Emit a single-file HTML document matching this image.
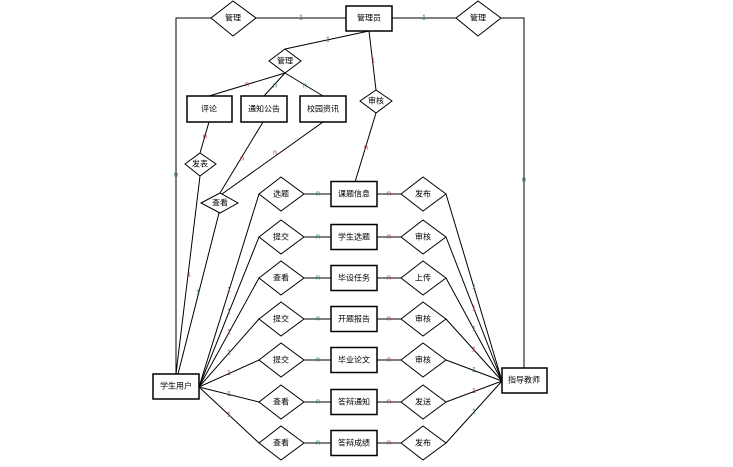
<!DOCTYPE html>
<html><head><meta charset="utf-8"><style>
html,body{margin:0;padding:0;background:#fff;}
svg{display:block;}
text{font-family:"Liberation Sans","Noto Sans CJK SC",sans-serif;font-size:8px;fill:#000;text-anchor:middle;dominant-baseline:central;}
.l{font-size:7px;}
.r{fill:#b03030;}
.t{fill:#207070;}
line,polyline,polygon,rect{stroke:#000;stroke-width:1;fill:#fff;}
polyline{fill:none;}
rect{stroke-width:1.5;}
</style></head><body>
<svg width="733" height="467" viewBox="0 0 733 467">
<!-- top lines -->
<polyline points="211,18 176,18 176,374"/>
<line x1="256" y1="18" x2="346" y2="18"/>
<line x1="392" y1="18" x2="456" y2="18"/>
<polyline points="501,18 524,18 524,368"/>
<line x1="369" y1="31" x2="285" y2="49"/>
<line x1="369" y1="31" x2="376" y2="90"/>
<line x1="376" y1="113" x2="355" y2="182"/>
<line x1="285" y1="73" x2="209" y2="96"/>
<line x1="285" y1="73" x2="264" y2="96"/>
<line x1="285" y1="73" x2="323" y2="96"/>
<line x1="209" y1="122" x2="200" y2="153"/>
<line x1="200" y1="176" x2="176" y2="374"/>
<line x1="263" y1="122" x2="220" y2="193"/>
<line x1="323" y1="122" x2="222" y2="194"/>
<line x1="219" y1="213" x2="178" y2="374"/>
<!-- rows -->
<g id="rows"></g>
<!-- shapes -->
<polygon points="211,18 233,1 256,18 233,36"/>
<polygon points="456,18 478,1 501,18 478,36"/>
<rect x="346" y="6" width="46" height="25"/>
<polygon points="269,61 285,49 301,61 285,73"/>
<polygon points="360,101 376,90 392,101 376,113"/>
<rect x="187" y="96" width="45" height="26"/>
<rect x="241" y="96" width="46" height="26"/>
<rect x="300" y="96" width="46" height="26"/>
<polygon points="185,164 200,153 216,164 200,176"/>
<polygon points="201,203 220,193 238,203 220,213"/>
<rect x="153" y="374" width="46" height="25"/>
<rect x="502" y="368" width="45" height="25"/>
<text x="233" y="18">管理</text>
<text x="478" y="18">管理</text>
<text x="369" y="18">管理员</text>
<text x="285" y="61">管理</text>
<text x="376" y="101">审核</text>
<text x="209" y="109">评论</text>
<text x="264" y="109">通知公告</text>
<text x="323" y="109">校园资讯</text>
<text x="200" y="164">发表</text>
<text x="220" y="203">查看</text>
<text x="176" y="386">学生用户</text>
<text x="524" y="380">指导教师</text>
<text class="l t" x="301" y="18">1</text>
<text class="l t" x="424" y="18">1</text>
<text class="l t" x="328" y="40">1</text>
<text class="l r" x="373" y="61">1</text>
<text class="l r" x="366" y="148">n</text>
<text class="l r" x="247" y="85">n</text>
<text class="l t" x="275" y="86">n</text>
<text class="l t" x="305" y="86">n</text>
<text class="l r" x="205" y="137">n</text>
<text class="l r" x="242" y="159">n</text>
<text class="l r" x="275" y="153">n</text>
<text class="l t" x="176" y="175">n</text>
<text class="l t" x="524" y="180">n</text>
<text class="l r" x="189" y="275">1</text>
<text class="l t" x="198" y="293">1</text>
</svg>
<script>
(function(){
var g=document.getElementById('rows'),ns='http://www.w3.org/2000/svg';
var ys=[194,237,278,319,360,402,443];
var L=['选题','提交','查看','提交','提交','查看','查看'];
var M=['课题信息','学生选题','毕设任务','开题报告','毕业论文','答辩通知','答辩成绩'];
var R=['发布','审核','上传','审核','审核','发送','发布'];
function el(n,a,t){var e=document.createElementNS(ns,n);for(var k in a)e.setAttribute(k,a[k]);if(t)e.textContent=t;g.appendChild(e);return e;}
var lines=[],shapes=[],texts=[];
ys.forEach(function(y,i){
 el('line',{x1:199,y1:387,x2:259,y2:y});
 el('line',{x1:446,y1:y,x2:502,y2:381});
 el('line',{x1:304,y1:y,x2:331,y2:y});
 el('line',{x1:377,y1:y,x2:401,y2:y});
});
ys.forEach(function(y,i){
 el('polygon',{points:'259,'+y+' 281,'+(y-17)+' 304,'+y+' 281,'+(y+17)});
 el('polygon',{points:'401,'+y+' 423,'+(y-17)+' 446,'+y+' 423,'+(y+17)});
 el('rect',{x:331,y:y-12.5,width:46,height:25});
 el('text',{x:281,y:y},L[i]);
 el('text',{x:354,y:y},M[i]);
 el('text',{x:423,y:y},R[i]);
 el('text',{x:318,y:y,'class':'l t'},'n');
 el('text',{x:389,y:y,'class':'l r'},'n');
 var lx=229,ly=387+(y-387)*0.5; lx=199+(259-199)*0.5;
 el('text',{x:lx,y:ly,'class':'l '+(i%2?'t':'r')},'1');
 var rx=446+(502-446)*0.5,ry=y+(381-y)*0.5;
 el('text',{x:rx,y:ry,'class':'l '+(i%2?'r':'t')},'1');
});
})();
</script>
</body></html>
